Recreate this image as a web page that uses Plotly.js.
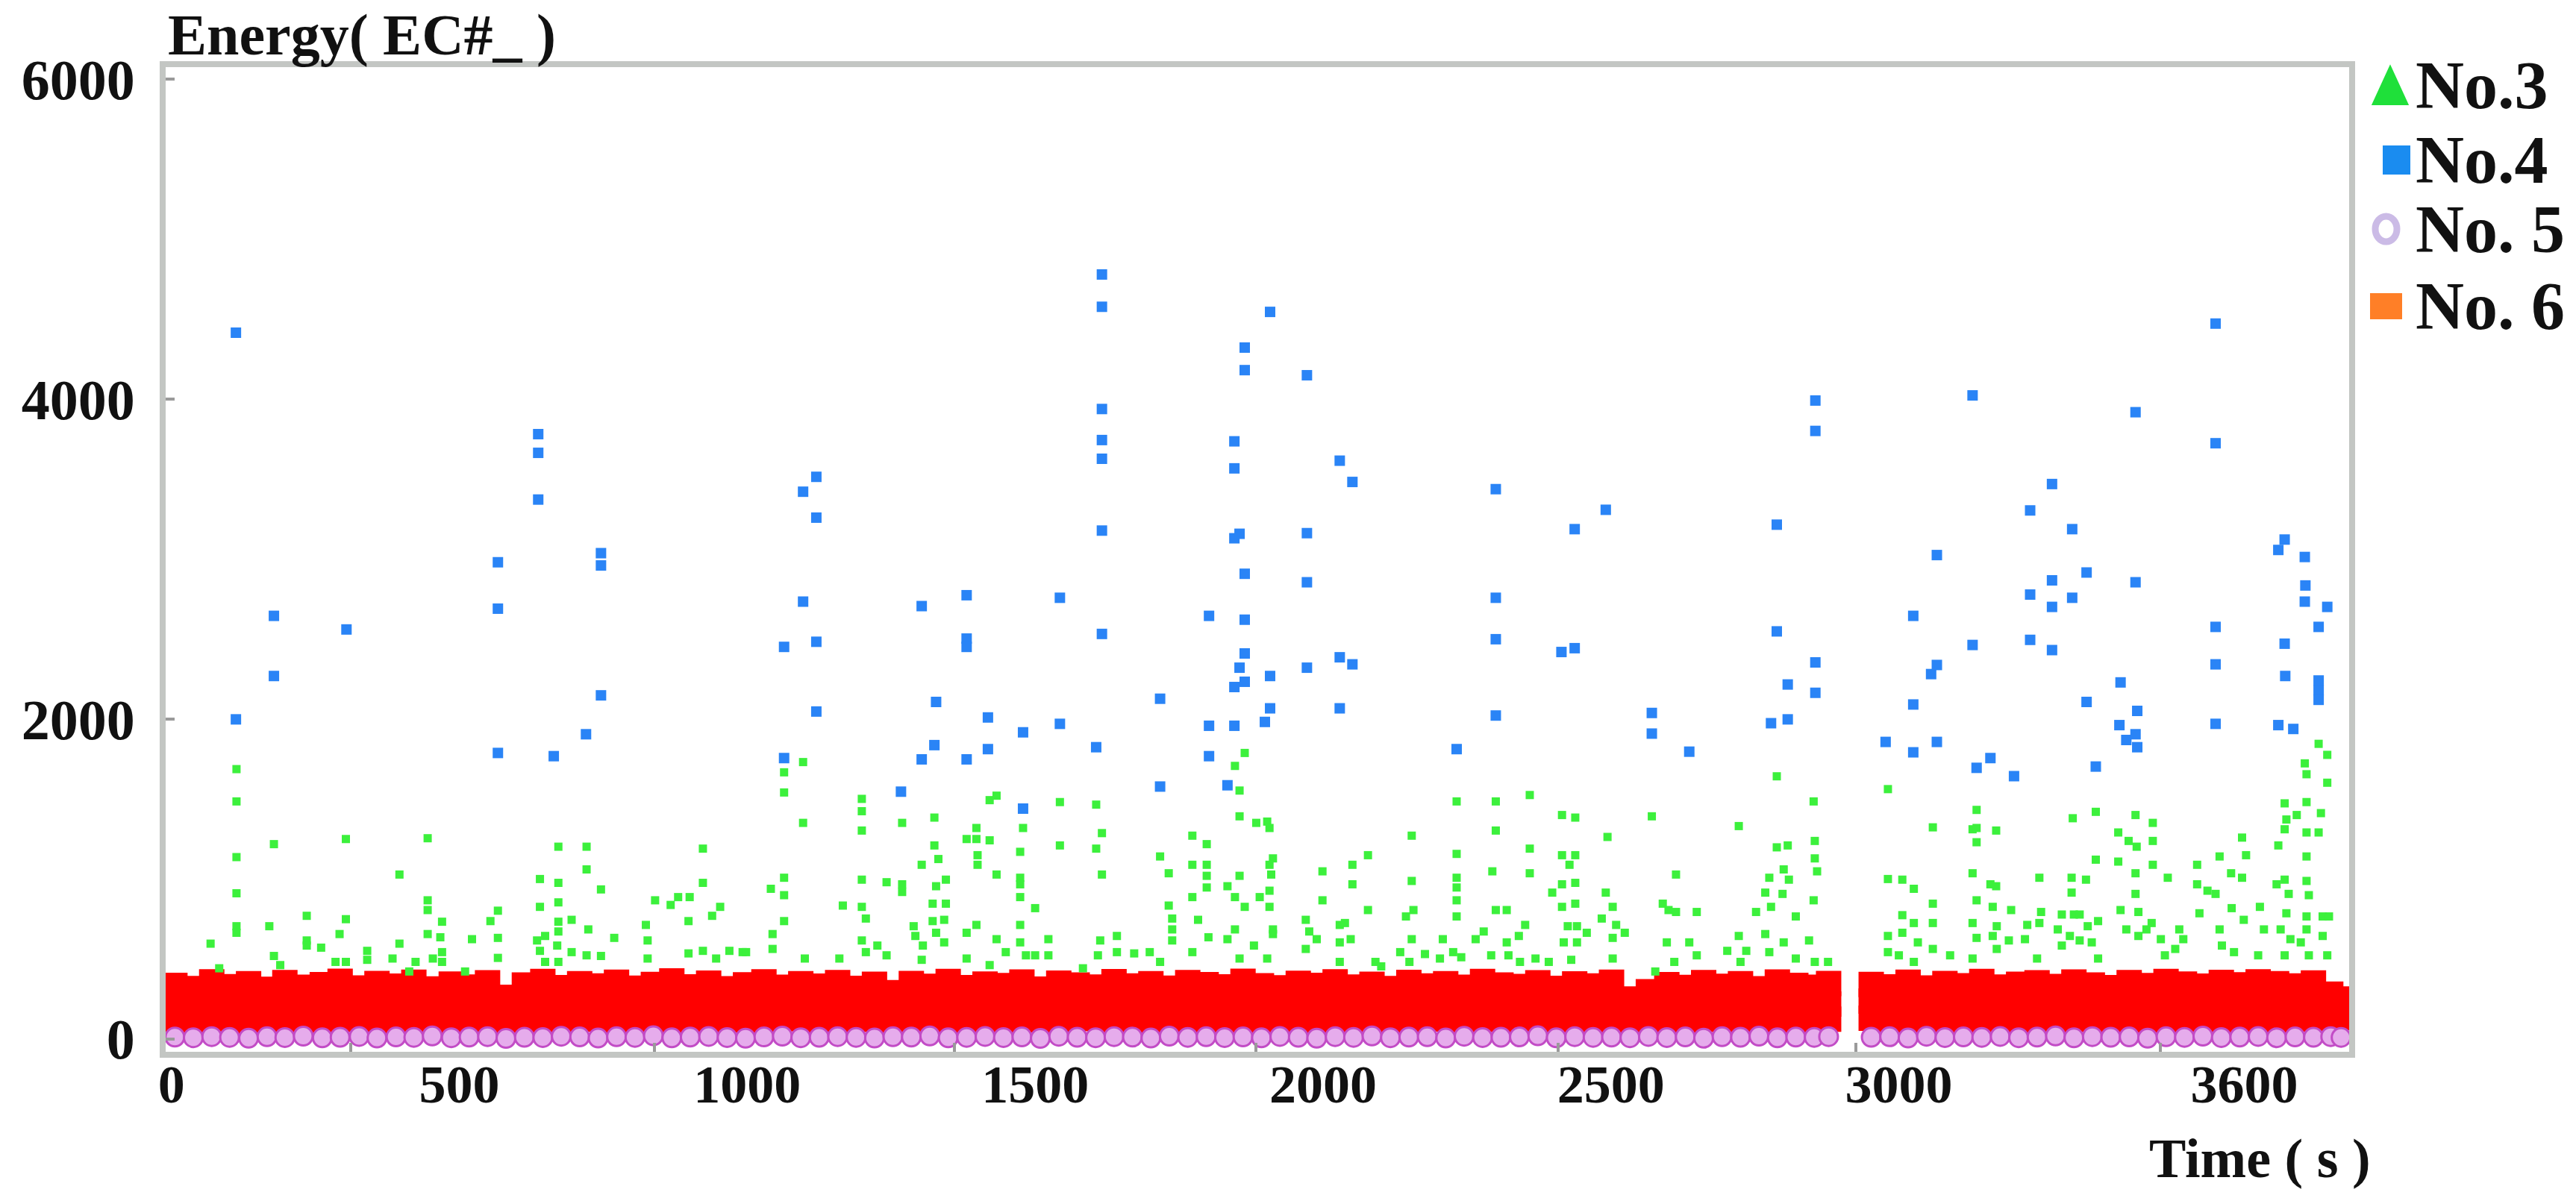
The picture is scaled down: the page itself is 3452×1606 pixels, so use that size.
<!DOCTYPE html>
<html><head><meta charset="utf-8">
<script src="https://cdn.plot.ly/plotly-3.0.1.min.js"></script>
<style>html,body{margin:0;padding:0;background:#fff;}</style>
</head><body><div id="chart" style="width:3452px;height:1606px;"></div>
<script>
// ---- axis labels ----
const xTickVals = [0, 500, 1000, 1500, 2000, 2500, 3000, 3600];
const xTickText = ['0', '500', '1000', '1500', '2000', '2500', '3000', '3600'];
const yTickVals = [0, 2000, 4000, 6000];
const yTickText = ['0', '2000', '4000', '6000'];
const xMinorTicks = [312, 839, 1360, 1884, 2408, 2926, 3454];
const seriesNames = ['No.3', 'No.4', 'No. 5', 'No. 6'];
const yTitleText = 'Energy( EC#_ )';
const xTitleText = 'Time ( s )';

// ---- No.4 (blue) ----
const no4Time = [112,112,178,178,304,567,567,567,637,637,637,664,720,746,746,746,
1064,1064,1097,1097,1120,1120,1120,1120,1267,1303,1303,1328,1325,1381,1381,1381,1381,1418,1418,1479,1479,1543,1543,1606,1616,1616,1616,1616,1616,1616,1616,1717,1717,1802,1802,1802,1834,1846,1846,1846,1846,1846,1855,1855,1864,1864,1864,1864,1864,1864,1899,1908,1908,1908,1972,1972,1972,1972,2029,2029,2029,
2051,2051,2232,2300,2300,2300,2300,2414,2437,2437,2491,2571,2571,2636,2778,2788,2788,2807,2807,2855,2855,2855,2855,2977,3025,3025,3025,3056,3066,3066,3066,
3128,3128,3135,3159,3200,3228,3228,3228,3266,3266,3266,3266,3301,3301,3326,3326,3342,3385,3383,3395,3411,3411,3414,3411,3414,3550,3550,3550,3550,3550,3659,3670,3670,3671,3659,3685,3705,3706,3705,3744,3729,3729,3729,3729];
const no4Energy = [4415,1998,2645,2269,2560,2980,2690,1788,3781,3664,3372,1768,1905,3037,2960,2148,
2451,1756,3421,2734,3514,3259,2483,2047,1546,2706,1748,2107,1837,2774,2503,2451,1748,2010,1812,1917,1440,2758,1970,1824,4779,4577,3938,3744,3627,3178,2532,2127,1578,2645,1958,1768,1586,3736,3567,3130,2200,1958,3158,2321,4322,4181,2908,2621,2410,2233,1982,4545,2269,2067,4149,3162,2855,2321,3615,2386,2067,
3482,2342,1812,3437,2758,2499,2022,2419,3187,2443,3308,2038,1909,1796,1974,3215,2548,2216,1998,3991,3801,2354,2164,1857,2645,2091,1792,2281,3025,2338,1857,
4023,2463,1695,1756,1643,3304,2778,2495,3469,2867,2701,2431,3187,2758,2916,2107,1703,2229,1962,1869,3918,2855,2051,1905,1824,4472,3724,2576,2342,1970,3057,3122,2471,2269,1962,1938,3013,2835,2734,2701,2576,2241,2180,2120];

// ---- No.3 (green) ----
const no3Time = [113,113,113,113,113,113,68,83,178,170,178,189,235,235,235,260,303,303,292,285,303,340,340,396,396,384,424,413,445,445,445,445,470,467,470,454,470,522,510,554,567,567,567,640,640,635,649,640,649,672,672,672,672,672,670,672,695,695,721,721,724,721,746,746,769,824,840,827,827,867,880,900,898,898,923,923,939,953,923,946,969,992,
998,1041,1044,1044,1064,1064,1064,1064,1064,1097,1097,1100,1160,1166,1199,1199,1199,1199,1199,1206,1199,1206,1226,1242,1242,1269,1269,1269,1289,1292,1303,1305,1303,1325,1325,1332,1328,1345,1322,1345,1322,1342,1342,1328,1381,1398,1398,1421,1400,1400,1381,1398,1381,1421,1433,1433,1433,1421,1449,1474,1474,1474,1474,1474,1474,1484,1500,1500,1479,1523,1523,1543,1543,1606,1616,1606,1616,1613,1609,1583,1642,1642,1672,1699,1717,1732,1732,1738,1738,1738,1717,1773,1773,1773,1783,1773,1798,1798,1798,1798,1801,1834,1847,1864,1855,1855,1855,1847,1864,1847,1834,1855,1884,1903,1907,1913,1907,1910,1907,1890,1907,1913,1913,1880,1903,1970,1976,1989,1970,1999,1999,2029,2029,2029,
2051,2051,2078,2078,2048,2038,2091,2101,2134,2144,2154,2154,2157,2154,2150,2177,2203,2208,2232,2232,2232,2232,2232,2232,2226,2240,2265,2279,2294,2300,2300,2300,2319,2292,2319,2322,2340,2351,2359,2359,2359,2342,2369,2392,2398,2415,2438,2415,2428,2438,2415,2438,2415,2438,2425,2441,2418,2441,2458,2431,2484,2494,2491,2503,2503,2509,2524,2503,2571,2577,2597,2590,2600,2613,2613,2610,2636,2649,2649,2702,2722,2722,2725,2735,2752,2775,2768,2778,2768,2775,2788,2788,2807,2800,2809,2798,2800,2821,2821,2852,2854,2854,2858,2852,2844,2854,2877,2981,2981,2981,2981,3006,3026,3006,3026,3006,3033,3000,3026,3059,3059,3059,3059,
3135,3128,3135,3135,3128,3135,3128,3135,3128,3089,3159,3169,3169,3163,3170,3163,3170,3195,3191,3223,3219,3244,3244,3247,3240,3276,3283,3283,3304,3314,3300,3300,3297,3314,3302,3325,3328,3342,3342,3346,3335,3346,3381,3399,3413,3381,3385,3395,3411,3411,3411,3416,3416,3430,3441,3441,3441,3439,3455,3462,3467,3487,3494,3480,3518,3518,3522,3536,3557,3557,3561,3550,3577,3578,3596,3603,3596,3599,3582,3627,3634,3624,3659,3670,3673,3670,3656,3670,3677,3673,3663,3680,3670,3691,3705,3708,3708,3708,3708,3708,3712,3708,3708,3698,3712,3729,3744,3744,3733,3729,3736,3747,3736,3744];
const no3Energy = [1687,1485,1137,911,705,664,596,442,1218,705,519,462,770,616,584,571,1250,749,656,482,482,551,495,1028,596,503,482,422,1255,867,806,656,733,636,543,503,482,624,422,737,802,632,507,1000,826,616,644,551,482,1202,976,854,733,672,584,482,745,543,1202,1060,685,523,935,519,632,713,867,616,503,838,887,887,737,535,1190,976,770,826,551,503,551,543,
543,939,656,563,1667,1541,1008,899,737,1731,1351,503,503,834,1501,1424,1303,996,826,753,616,543,584,980,523,1351,967,919,705,644,1089,584,495,1384,1210,1125,955,996,846,846,737,745,604,664,1250,1319,1250,1242,1149,1089,664,713,503,1493,1521,1028,624,462,543,1170,1008,967,887,713,604,523,818,523,1319,624,523,1481,1210,1465,1287,1190,1028,616,523,442,644,543,535,543,1141,1036,834,753,685,616,482,1271,1089,887,745,543,1218,1089,1020,947,636,955,1707,1788,1553,1392,1020,887,826,685,624,503,1351,1359,1319,1129,1089,1028,927,887,826,685,656,584,503,745,672,624,563,1048,867,713,604,482,
1089,967,1149,806,624,725,482,454,543,766,1271,988,806,624,482,531,503,624,1485,1157,1008,947,867,766,543,511,624,672,1048,1485,1303,806,806,523,604,523,644,713,1525,1190,1036,482,503,482,915,1400,1384,1149,1089,1149,967,976,826,846,705,705,604,604,664,495,753,1263,915,826,632,713,664,503,1392,422,604,846,806,1028,794,482,604,794,523,551,1331,644,482,551,794,1008,915,826,656,543,1642,1198,1210,1060,996,907,604,766,503,1485,1238,1129,1048,867,616,482,482,1562,1000,644,543,996,939,774,725,664,604,523,482,1323,846,725,563,
1432,1311,1319,1230,1036,867,725,632,503,523,967,955,1303,826,705,644,563,806,616,713,624,1008,725,794,503,685,778,584,778,778,1008,915,644,616,1380,996,705,1420,1121,737,604,503,1291,1238,1202,1109,806,685,1400,1036,907,794,644,685,1351,1238,1089,725,624,523,1008,685,624,563,1089,967,786,927,1141,685,584,907,1036,818,1259,1149,1008,745,543,826,685,523,1210,1473,1372,1311,967,996,907,786,685,624,523,1400,1723,1655,1481,1291,1141,988,899,766,685,604,523,1845,1776,1602,1412,1291,766,766,644,523];

// ---- No.5 and No.6 share the dense sampling times ----
const sampleTimes = [6,38,70,101,134,166,197,229,262,293,326,357,390,421,453,486,517,549,581,613,645,677,709,741,773,805,837,869,901,933,965,997,1029,1061,1093,1125,1157,1189,1221,1253,1285,1317,1349,1381,1413,1445,1477,1509,1541,1573,1605,1637,1669,1701,1733,1765,1797,1829,1861,1893,1925,1957,1989,2021,2053,2085,2117,2149,2181,2213,2245,2277,2309,2341,2373,2405,2437,2469,2501,2533,2565,2597,2629,2661,2693,2725,2757,2789,2821,2853,2878,
2952,2984,3016,3048,3080,3112,3144,3176,3208,3240,3272,3304,3336,3368,3400,3432,3464,3496,3528,3560,3592,3624,3656,3688,3720,3750,3768];
const no5Energy = [12,8,15,10,5,14,9,18,7,11,16,6,13,10,19,8,12,15,4,11,
9,17,13,6,14,10,20,7,12,16,9,5,13,18,8,11,15,10,6,14,
12,19,7,10,16,9,13,4,17,11,8,15,12,6,18,10,14,9,13,7,
16,11,5,15,10,19,8,12,14,6,17,9,11,13,20,7,15,10,12,8,
16,9,13,5,14,11,18,7,12,10,15,
11,14,6,17,9,13,10,16,8,12,19,7,15,11,13,5,14,10,18,9,12,16,8,13,11,15,10];
const no6Low = [125,113,137,120,105,133,115,127,110,135,123,107,130,118,135,112,125,103,131,117,
135,109,124,132,106,121,137,114,128,105,119,134,111,126,138,115,107,132,123,110,
136,118,129,113,124,105,133,120,111,135,127,116,131,108,122,137,114,125,103,130,
119,135,112,128,121,106,133,117,125,138,110,123,132,115,107,129,121,135,113,126,
118,134,109,131,123,105,136,120,112,128,124,
130,113,135,118,126,107,132,121,115,137,110,129,123,106,134,119,127,112,135,116,131,122,109,133,125,117,135];
const no6Mid = [230,215,243,225,211,237,220,245,213,233,224,240,207,231,246,219,235,212,200,226,
217,244,228,210,236,222,247,214,232,221,239,208,234,225,245,216,230,238,213,220,
223,231,211,240,218,245,227,214,236,221,233,209,243,224,230,237,215,246,220,228,
212,241,225,234,218,245,210,232,223,238,216,243,227,213,236,221,231,207,242,190,
205,217,246,211,230,223,240,214,233,225,219,
237,215,230,244,221,233,212,241,226,218,245,223,235,211,239,228,216,243,225,234,220,247,213,237,229,222,205];
const no6Top = [335,315,357,327,345,310,353,323,340,361,319,347,330,355,313,343,325,351,260,337,
359,321,346,332,355,317,341,363,326,349,314,338,357,323,345,330,353,316,342,290,
347,329,360,321,343,334,356,312,349,337,324,358,331,345,318,353,340,326,361,333,
320,348,335,357,324,342,315,354,331,346,323,359,337,328,351,316,344,332,355,250,
295,340,322,353,329,345,314,356,335,323,347,
341,326,355,319,347,333,360,324,342,351,328,356,337,321,353,334,359,343,330,354,338,357,345,332,350,280,250];

// ---- layout helpers (plot area: left 222, right 3148, top 90, bottom 1410) ----
const FONT = 'Liberation Serif, Times New Roman, serif';
const PL = 222, PW = 2926, PT = 90, PH = 1320;
const px2paperX = p => (p - PL) / PW;
const px2paperY = p => (PT + PH - p) / PH;

const traces = [
  { type: 'scatter', mode: 'markers', name: seriesNames[3],
    x: sampleTimes.concat(sampleTimes, sampleTimes),
    y: no6Low.concat(no6Mid, no6Top),
    marker: { symbol: 'square', size: 34, color: '#ff0000', line: { width: 0 } } },
  { type: 'scatter', mode: 'markers', name: seriesNames[2],
    x: sampleTimes, y: no5Energy,
    marker: { symbol: 'circle', size: 25, color: '#e6acec', line: { width: 3, color: '#c24cc6' } } },
  { type: 'scatter', mode: 'markers', name: seriesNames[0],
    x: no3Time, y: no3Energy,
    marker: { symbol: 'square', size: 11, color: '#3cf03c', line: { width: 0 } } },
  { type: 'scatter', mode: 'markers', name: seriesNames[1],
    x: no4Time, y: no4Energy,
    marker: { symbol: 'square', size: 14, color: '#2a84f6', line: { width: 0 } } }
];

const legendRows = [115, 214, 307, 410];
const legendShapes = [
  { type: 'path', xref: 'paper', yref: 'paper',
    path: 'M ' + px2paperX(3181) + ',' + px2paperY(139) + ' L ' + px2paperX(3225) + ',' + px2paperY(139) + ' L ' + px2paperX(3203) + ',' + px2paperY(91) + ' Z',
    fillcolor: '#1fe03a', line: { color: '#1fe03a', width: 4 } },
  { type: 'rect', xref: 'paper', yref: 'paper',
    x0: px2paperX(3193), x1: px2paperX(3230), y0: px2paperY(234), y1: px2paperY(195),
    fillcolor: '#1a8cf0', line: { width: 0 } },
  { type: 'circle', xref: 'paper', yref: 'paper',
    x0: px2paperX(3183), x1: px2paperX(3212), y0: px2paperY(324), y1: px2paperY(290),
    fillcolor: '#ffffff', line: { color: '#cbbbe6', width: 9 } },
  { type: 'rect', xref: 'paper', yref: 'paper',
    x0: px2paperX(3176), x1: px2paperX(3219), y0: px2paperY(428), y1: px2paperY(393),
    fillcolor: '#ff7f27', line: { width: 0 } }
];
const legendTexts = seriesNames.map((t, i) => ({
  text: t, xref: 'paper', yref: 'paper', x: px2paperX(3235), y: px2paperY(legendRows[i]),
  xanchor: 'left', yanchor: 'middle', showarrow: false,
  font: { family: FONT, size: 90, weight: 'bold', color: '#111' }
}));

const layout = {
  width: 3452, height: 1606,
  paper_bgcolor: '#ffffff', plot_bgcolor: '#ffffff',
  margin: { l: PL, r: 3452 - PL - PW, t: PT, b: 1606 - PT - PH, pad: 0 },
  showlegend: false,
  font: { family: FONT, color: '#111' },
  title: { text: yTitleText, font: { family: FONT, size: 78, weight: 'bold', color: '#111' },
    xref: 'container', x: 225 / 3452, xanchor: 'left', yref: 'container', y: 1 - 46 / 1606, yanchor: 'middle' },
  xaxis: {
    range: [-10, 3782], tickmode: 'array', tickvals: xTickVals, ticktext: xTickText,
    ticks: '', showgrid: false, zeroline: false,
    showline: true, mirror: true, linecolor: '#c3c6c3', linewidth: 8,
    tickfont: { family: FONT, size: 72, weight: 'bold', color: '#111' },
    ticklabelstandoff: -26,
    minor: { tickmode: 'array', tickvals: xMinorTicks, ticks: 'inside', ticklen: 12, tickwidth: 4, tickcolor: '#9a9a9a', showgrid: false }
  },
  yaxis: {
    range: [-80, 6075], tickmode: 'array', tickvals: yTickVals, ticktext: yTickText,
    ticks: 'inside', ticklen: 12, tickwidth: 4, tickcolor: '#9a9a9a',
    showgrid: false, zeroline: false,
    showline: true, mirror: true, linecolor: '#c3c6c3', linewidth: 8,
    tickfont: { family: FONT, size: 76, weight: 'bold', color: '#111' },
    ticklabelstandoff: 18
  },
  shapes: legendShapes,
  annotations: legendTexts.concat([
    { text: xTitleText, xref: 'paper', yref: 'paper', x: px2paperX(3028), y: px2paperY(1553),
      xanchor: 'center', yanchor: 'middle', showarrow: false,
      font: { family: FONT, size: 74, weight: 'bold', color: '#111' } }
  ])
};

Plotly.newPlot('chart', traces, layout, { staticPlot: true, displayModeBar: false });
</script>
</body></html>
